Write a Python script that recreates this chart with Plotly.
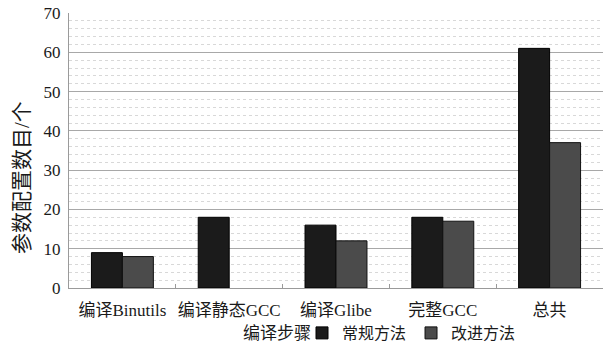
import plotly.graph_objects as go

categories = ["编译Binutils", "编译静态GCC", "编译Glibe", "完整GCC", "总共"]
regular = [9, 18, 16, 18, 61]
improved = [8, None, 12, 17, 37]
series_names = ["常规方法", "改进方法"]

FONT = "Liberation Serif, Noto Sans CJK SC, serif"

fig = go.Figure()
fig.add_trace(go.Bar(
    x=categories, y=regular, name=series_names[0],
    marker=dict(color="#1b1b1b", line=dict(color="#000000", width=1)),
))
fig.add_trace(go.Bar(
    x=categories, y=improved, name=series_names[1],
    marker=dict(color="#4b4b4b", line=dict(color="#111111", width=1)),
))

W, H = 614, 344
L, R, T, B = 69, 11, 13, 56

fig.update_layout(
    width=W, height=H,
    margin=dict(l=L, r=R, t=T, b=B, autoexpand=False),
    paper_bgcolor="white", plot_bgcolor="white",
    barmode="group", bargap=0.42, bargroupgap=0,
    font=dict(family=FONT, size=17, color="#1a1a1a"),
    showlegend=True,
    legend=dict(
        orientation="h", x=(302 - L) / (W - L - R), xanchor="left",
        y=(H - B - 333) / (H - T - B), yanchor="middle",
        font=dict(size=16), itemwidth=30, tracegroupgap=0,
        bgcolor="rgba(0,0,0,0)",
    ),
)

fig.update_xaxes(
    showline=True, linecolor="#9a9a9a", linewidth=1,
    ticks="inside", tickson="boundaries", ticklen=4, tickcolor="#9a9a9a",
    tickfont=dict(size=17), tickangle=0, ticklabelstandoff=7,
    automargin=False, showgrid=False,
)
fig.update_yaxes(
    range=[0, 70], dtick=10, showline=True, linecolor="#9a9a9a", linewidth=1,
    showgrid=True, gridcolor="#a8a8a8", gridwidth=1, automargin=False,
    zeroline=False, ticks="", tickfont=dict(size=17), ticklabelstandoff=4,
    minor=dict(dtick=2, showgrid=True, gridcolor="#d8d8d8", griddash="dot", gridwidth=1),
)

# axis titles
fig.add_annotation(
    text="参数配置数目/个", textangle=-90, showarrow=False,
    xref="paper", yref="paper", x=(22 - L) / (W - L - R), y=(H - B - 177) / (H - T - B),
    xanchor="center", yanchor="middle", font=dict(size=21),
)
fig.add_annotation(
    text="编译步骤", showarrow=False,
    xref="paper", yref="paper", x=(277 - L) / (W - L - R), y=(H - B - 333) / (H - T - B),
    xanchor="center", yanchor="middle", font=dict(size=17),
)

fig.write_html("out.html")
